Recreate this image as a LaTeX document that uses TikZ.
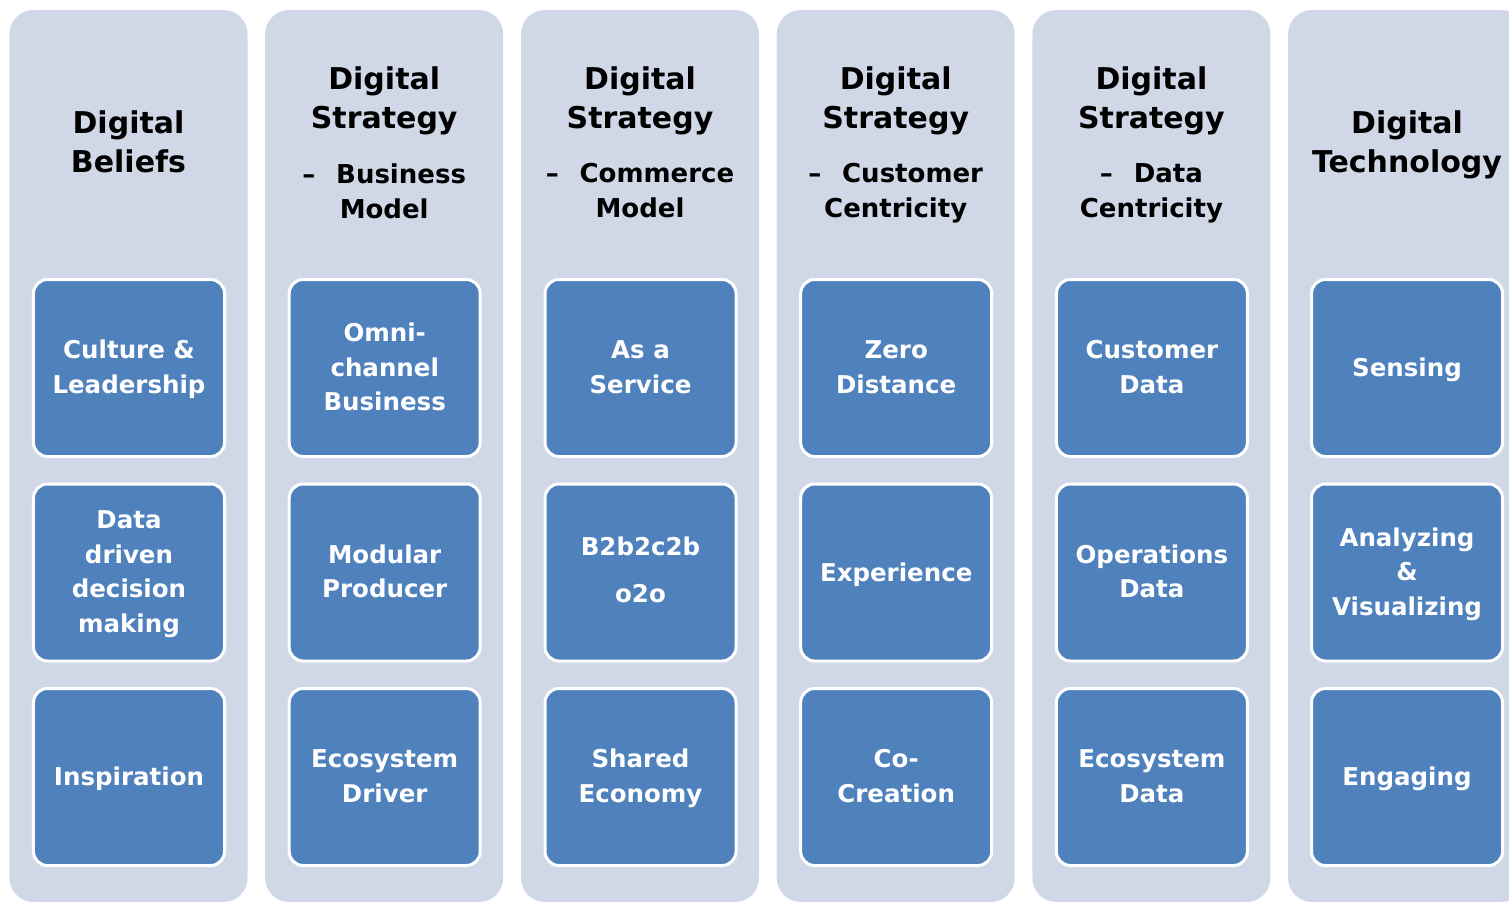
\documentclass[tikz,border=0pt]{standalone}
\usepackage{fontspec}
\setmainfont{DejaVu Sans}
\definecolor{colbg}{HTML}{D0D8E8}
\definecolor{boxbg}{HTML}{4F81BD}
\newcommand\balstrut{\rule[-0.24\baselineskip]{0pt}{\baselineskip}}
\tikzset{
  strutted/.style={execute at begin node=\balstrut, execute at end node=\balstrut},
  colpanel/.style={fill=colbg, draw=none, rounded corners=24bp, minimum width=238bp, minimum height=892bp, inner sep=0pt},
  cell/.style={fill=boxbg, draw=white, line width=3bp, rounded corners=14bp, minimum width=191bp, minimum height=177bp, inner sep=0pt},
  celltext/.style={strutted, inner sep=0pt, text=white, align=center, font=\bfseries\fontsize{24.5bp}{34.5bp}\selectfont},
  head/.style={strutted, align=center, text=black, inner sep=0pt, font=\bfseries\fontsize{30bp}{39bp}\selectfont},
  subhead/.style={strutted, align=center, text=black, inner sep=0pt, font=\bfseries\fontsize{26bp}{35bp}\selectfont}
}
\begin{document}
\begin{tikzpicture}[x=1bp,y=-1bp]
\useasboundingbox (0,0) rectangle (1509,906);
% columns
\node[colpanel] (c1) at (128.5,456) {};
\node[colpanel] (c2) at (384.2,456) {};
\node[colpanel] (c3) at (640,456) {};
\node[colpanel] (c4) at (895.7,456) {};
\node[colpanel] (c5) at (1151.4,456) {};
\node[colpanel] (c6) at (1407,456) {};
% headers
\node[head] (h1) at (128.5,146) {Digital\\Beliefs};
\node[head] (h2) at (384.2,102.5) {Digital\\Strategy};
\node[subhead] (s2) at (384.2,195) {–\hspace{0.8em}Business\\Model};
\node[head] (h3) at (640,102.5) {Digital\\Strategy};
\node[subhead] (s3) at (640,195) {–\hspace{0.8em}Commerce\\Model};
\node[head] (h4) at (895.7,102.5) {Digital\\Strategy};
\node[subhead] (s4) at (895.7,195) {–\hspace{0.8em}Customer\\Centricity};
\node[head] (h5) at (1151.4,102.5) {Digital\\Strategy};
\node[subhead] (s5) at (1151.4,195) {–\hspace{0.8em}Data\\Centricity};
\node[head] (h6) at (1407,146) {Digital\\Technology};
% cells
\node[cell] (b11) at (129,368) {};
\node[cell] (b12) at (129,572.5) {};
\node[cell] (b13) at (129,777) {};
\node[cell] (b21) at (384.7,368) {};
\node[cell] (b22) at (384.7,572.5) {};
\node[cell] (b23) at (384.7,777) {};
\node[cell] (b31) at (640.5,368) {};
\node[cell] (b32) at (640.5,572.5) {};
\node[cell] (b33) at (640.5,777) {};
\node[cell] (b41) at (896.2,368) {};
\node[cell] (b42) at (896.2,572.5) {};
\node[cell] (b43) at (896.2,777) {};
\node[cell] (b51) at (1151.9,368) {};
\node[cell] (b52) at (1151.9,572.5) {};
\node[cell] (b53) at (1151.9,777) {};
\node[cell] (b61) at (1407,368) {};
\node[cell] (b62) at (1407,572.5) {};
\node[cell] (b63) at (1407,777) {};
% cell texts
\node[celltext] (t11) at ([yshift=-3bp]b11.center) {Culture \&\\Leadership};
\node[celltext] (t12) at ([yshift=-3bp]b12.center) {Data\\driven\\decision\\making};
\node[celltext] (t13) at (b13.center) {Inspiration};
\node[celltext] (t21) at ([yshift=-3bp]b21.center) {Omni-\\channel\\Business};
\node[celltext] (t22) at ([yshift=-3bp]b22.center) {Modular\\Producer};
\node[celltext] (t23) at ([yshift=-3bp]b23.center) {Ecosystem\\Driver};
\node[celltext] (t31) at ([yshift=-3bp]b31.center) {As a\\Service};
\node[celltext, font=\bfseries\fontsize{24.5bp}{47bp}\selectfont] (t32) at ([yshift=-3bp]b32.center) {B2b2c2b\\o2o};
\node[celltext] (t33) at ([yshift=-3bp]b33.center) {Shared\\Economy};
\node[celltext] (t41) at ([yshift=-3bp]b41.center) {Zero\\Distance};
\node[celltext] (t42) at (b42.center) {Experience};
\node[celltext] (t43) at ([yshift=-3bp]b43.center) {Co-\\Creation};
\node[celltext] (t51) at ([yshift=-3bp]b51.center) {Customer\\Data};
\node[celltext] (t52) at ([yshift=-3bp]b52.center) {Operations\\Data};
\node[celltext] (t53) at ([yshift=-3bp]b53.center) {Ecosystem\\Data};
\node[celltext] (t61) at (b61.center) {Sensing};
\node[celltext] (t62) at ([yshift=-3bp]b62.center) {Analyzing\\\&\\Visualizing};
\node[celltext] (t63) at (b63.center) {Engaging};
\end{tikzpicture}
\end{document}
